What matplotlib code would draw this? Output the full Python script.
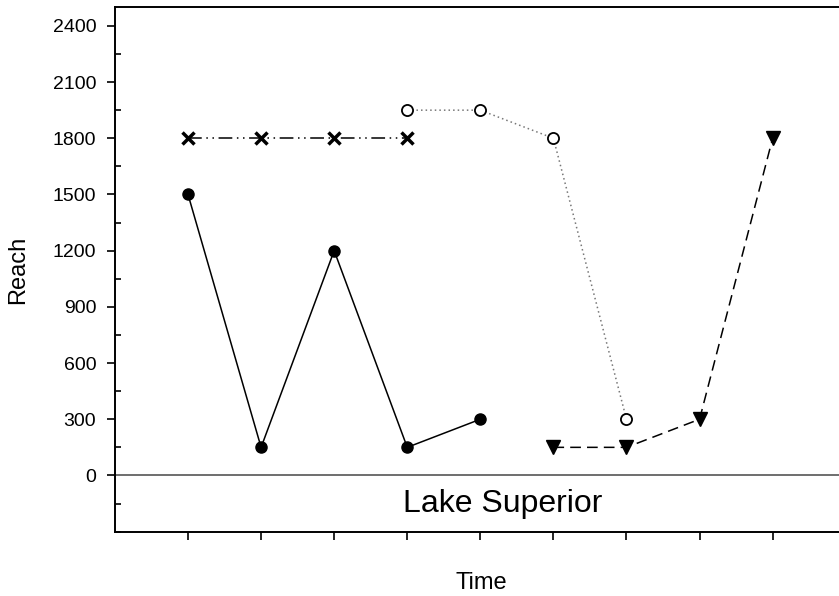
import matplotlib
matplotlib.use("Agg")
import matplotlib.pyplot as plt
from matplotlib.ticker import MultipleLocator

plt.rcParams['font.family'] = ['Liberation Sans', 'DejaVu Sans']

# data
x_solid = [1, 2, 3, 4, 5]
y_solid = [1500, 150, 1200, 150, 300]
x_cross = [1, 2, 3, 4]
y_cross = [1800, 1800, 1800, 1800]
x_open = [4, 5, 6, 7]
y_open = [1950, 1950, 1800, 300]
x_tri = [6, 7, 8, 9]
y_tri = [150, 150, 300, 1800]
x_ticks = [1, 2, 3, 4, 5, 6, 7, 8, 9]
y_ticks = [0, 300, 600, 900, 1200, 1500, 1800, 2100, 2400]

fig = plt.figure(figsize=(8.39, 5.96), dpi=100)
ax = fig.add_axes([0.137, 0.108, 0.871, 0.880])

ax.axhline(0, color='#555555', lw=1.2, zorder=1)

ax.plot(x_solid, y_solid, color='black', lw=1.1, marker='o', ms=8,
        mfc='black', mec='black', zorder=3)
ax.plot(x_cross, y_cross, color='black', lw=1.1, marker='x', ms=8, mew=2.5,
        dashes=(9, 3, 1, 3, 1, 3), zorder=3)
ax.plot(x_open, y_open, color='#777777', lw=1.1, linestyle=(0, (1, 2)),
        marker='o', ms=8, mfc='white', mec='black', mew=1.3, zorder=3)
ax.plot(x_tri, y_tri, color='black', lw=1.1, dashes=(7, 4), marker='v', ms=10,
        mfc='black', mec='black', zorder=3)

ax.text(5.31, -150, 'Lake Superior', ha='center', va='center', fontsize=23)

ax.set_xlim(0, 10)
ax.set_ylim(-300, 2500)
ax.set_xticks(x_ticks)
ax.set_xticklabels([])
ax.set_yticks(y_ticks)
ax.set_yticklabels([str(v) for v in y_ticks])
ax.yaxis.set_minor_locator(MultipleLocator(150))
ax.tick_params(axis='y', which='major', direction='out', length=6, width=1.2,
               labelsize=14, pad=7.5)
ax.tick_params(axis='y', which='minor', direction='in', length=4, width=1.2)
ax.tick_params(axis='x', which='major', direction='out', length=6, width=1.2)
for s in ax.spines.values():
    s.set_linewidth(1.4)

ax.set_ylabel('Reach', fontsize=17)
ax.set_xlabel('Time', fontsize=17)
ax.yaxis.set_label_coords(-0.132, 0.5)
ax.yaxis.label.set_va('center')
ax.xaxis.set_label_coords(0.5007, -0.0985)
ax.xaxis.label.set_va('center')

fig.savefig('out.png', dpi=100)
